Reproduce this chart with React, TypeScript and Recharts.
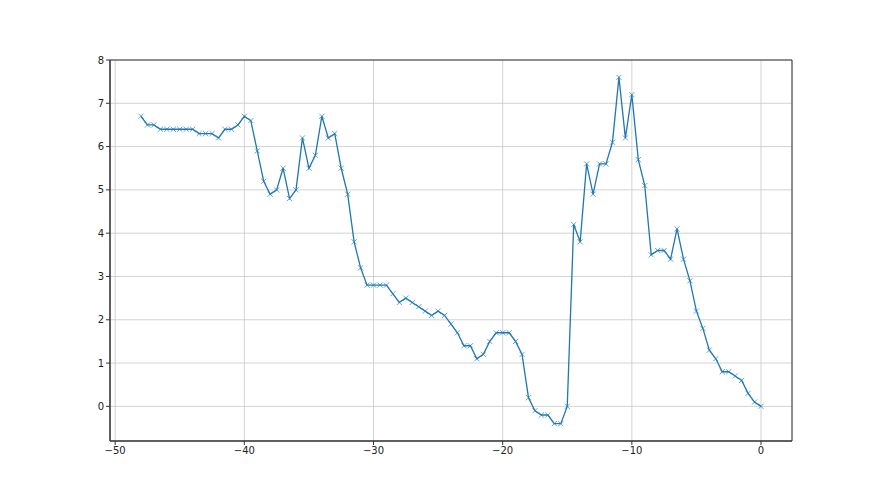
import React from 'react';
import { LineChart, Line, XAxis, YAxis, CartesianGrid, ReferenceArea } from 'recharts';

const xStart = -48;
const xStep = 0.5;
const yValues = [
  6.7, 6.5, 6.5, 6.4, 6.4, 6.4, 6.4, 6.4, 6.4, 6.3, 6.3, 6.3, 6.2, 6.4, 6.4, 6.5, 6.7,
  6.6, 5.9, 5.2, 4.9, 5.0, 5.5, 4.8, 5.0, 6.2, 5.5, 5.8, 6.7, 6.2, 6.3, 5.5, 4.9, 3.8, 3.2, 2.8, 2.8,
  2.8, 2.8, 2.6, 2.4, 2.5, 2.4, 2.3, 2.2, 2.1, 2.2, 2.1, 1.9, 1.7, 1.4, 1.4, 1.1, 1.2, 1.5, 1.7, 1.7,
  1.7, 1.5, 1.2, 0.2, -0.1, -0.2, -0.2, -0.4, -0.4, 0.0, 4.2, 3.8, 5.6, 4.9, 5.6, 5.6, 6.1, 7.6, 6.2, 7.2,
  5.7, 5.1, 3.5, 3.6, 3.6, 3.4, 4.1, 3.4, 2.9, 2.2, 1.8, 1.3, 1.1, 0.8, 0.8, 0.7, 0.6, 0.3, 0.1, 0.0,
];
const xTicks = [-50, -40, -30, -20, -10, 0];
const yTicks = [0, 1, 2, 3, 4, 5, 6, 7, 8];

const data = yValues.map((y, i) => ({ x: xStart + i * xStep, y }));

const fmt = (v: number) => (v < 0 ? '\u2212' + Math.abs(v) : String(v));

const XMark = (props: any) => {
  const { cx, cy, index } = props;
  if (cx == null || cy == null) return <g key={`d${index}`} />;
  const s = 2.6;
  return (
    <path
      key={`d${index}`}
      d={`M${cx - s},${cy - s}L${cx + s},${cy + s}M${cx - s},${cy + s}L${cx + s},${cy - s}`}
      stroke="#1f77b4"
      strokeOpacity={0.75}
      strokeWidth={0.9}
      fill="none"
    />
  );
};

export default function App() {
  const tickStyle = { fontFamily: 'DejaVu Sans', fontSize: 10, fill: '#222' };
  return (
    <div style={{ position: 'absolute', left: 0, top: 0, width: 880, height: 495, background: '#fff' }}>
      <LineChart width={880} height={495} data={data} margin={{ top: 60, right: 88, bottom: 34, left: 80 }}>
        <CartesianGrid stroke="#c8c8c8" strokeWidth={0.8} />
        <XAxis
          dataKey="x"
          type="number"
          domain={[-50.4, 2.4]}
          ticks={xTicks}
          allowDataOverflow
          tickFormatter={fmt}
          tick={tickStyle}
          tickSize={4}
          tickMargin={2}
          height={20}
          axisLine={{ stroke: '#333' }}
          tickLine={{ stroke: '#333' }}
        />
        <YAxis
          type="number"
          domain={[-0.8, 8]}
          ticks={yTicks}
          allowDataOverflow
          tickFormatter={fmt}
          tick={tickStyle}
          tickSize={4}
          tickMargin={2}
          width={30}
          axisLine={{ stroke: '#333' }}
          tickLine={{ stroke: '#333' }}
        />
        <ReferenceArea x1={-50.4} x2={2.4} y1={-0.8} y2={8} fill="none" stroke="#333" strokeWidth={1} ifOverflow="extendDomain" />
        <Line
          dataKey="y"
          stroke="#1f77b4"
          strokeWidth={1.3}
          dot={XMark}
          activeDot={false}
          isAnimationActive={false}
        />
      </LineChart>
    </div>
  );
}
